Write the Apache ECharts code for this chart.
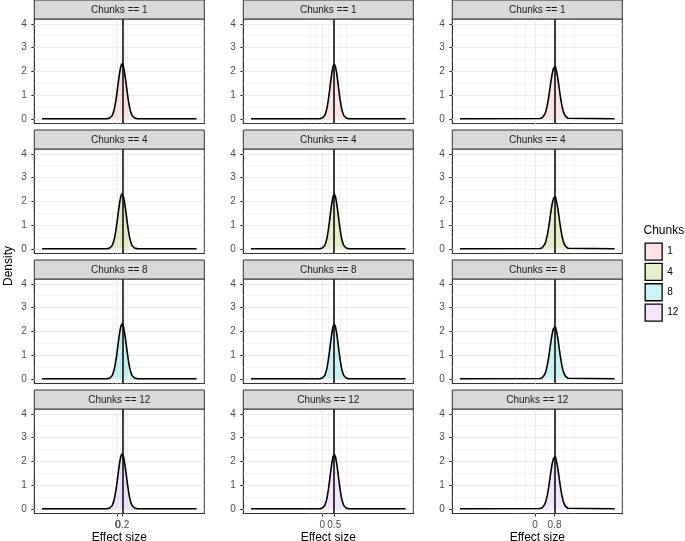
<!DOCTYPE html>
<html>
<head>
<meta charset="utf-8">
<script src="https://cdn.jsdelivr.net/npm/echarts@6/dist/echarts.min.js"></script>
<style>
html,body{margin:0;padding:0;background:#fff;}
#chart{width:685px;height:541px;}
</style>
</head>
<body>
<div id="chart"></div>
<script>
// ---- data ----
const chunks = ['1', '4', '8', '12'];
const effectSizes = [0.2, 0.5, 0.8];
const yTicks = [0, 1, 2, 3, 4];

const densityX_es02 = [-3.05, -0.41, -0.36, -0.31, -0.26, -0.21, -0.16, -0.11, -0.06, -0.01, 0.04, 0.09, 0.14, 0.19, 0.24, 0.29, 0.34, 0.39, 0.44, 0.49, 0.54, 0.59, 0.64, 0.69, 0.74, 0.79, 3.2];
const densityY_es02 = [0, 0.005, 0.012, 0.03, 0.07, 0.14, 0.28, 0.49, 0.79, 1.16, 1.57, 1.95, 2.22, 2.32, 2.2, 1.93, 1.56, 1.15, 0.78, 0.48, 0.27, 0.14, 0.07, 0.03, 0.012, 0.005, 0];

const densityX_es05 = [-3.0, -0.1, -0.05, 0, 0.05, 0.1, 0.15, 0.2, 0.25, 0.3, 0.35, 0.4, 0.45, 0.5, 0.55, 0.6, 0.65, 0.7, 0.75, 0.8, 0.85, 0.9, 0.95, 1.0, 1.05, 1.1, 3.5];
const densityY_es05 = [0, 0.005, 0.012, 0.03, 0.07, 0.14, 0.27, 0.48, 0.78, 1.15, 1.56, 1.93, 2.2, 2.3, 2.2, 1.93, 1.56, 1.15, 0.78, 0.48, 0.27, 0.14, 0.07, 0.03, 0.012, 0.005, 0];

const densityX_es08 = [-3.06, 0.2, 0.25, 0.3, 0.35, 0.4, 0.45, 0.5, 0.55, 0.6, 0.65, 0.7, 0.75, 0.78, 0.8, 0.83, 0.85, 0.9, 0.95, 1.0, 1.05, 1.1, 1.15, 1.2, 1.25, 1.3, 1.35, 1.4, 3.25];
const densityY_es08 = [0, 0.009, 0.021, 0.046, 0.097, 0.19, 0.33, 0.55, 0.84, 1.19, 1.56, 1.88, 2.1, 2.14, 2.12, 2.2, 2.17, 1.9, 1.57, 1.2, 0.85, 0.55, 0.33, 0.19, 0.097, 0.046, 0.021, 0.009, 0];

const densityX = [densityX_es02, densityX_es05, densityX_es08];
const densityY = [densityY_es02, densityY_es05, densityY_es08];

// ---- styling / layout ----
const fills = ['rgba(248,118,109,0.2)', 'rgba(124,174,0,0.2)', 'rgba(0,191,196,0.2)', 'rgba(199,124,255,0.2)'];
const FONT = 'Liberation Sans, Arial, Helvetica, sans-serif';
const P = { left0: 34.3, colStep: 209, top0: 19, rowStep: 130, w: 170, h: 104.5, strip: 19 };

const grids = [], xAxes = [], yAxes = [], series = [], graphics = [];

function xAxisBase(i, min, max) {
  return {
    gridIndex: i, type: 'value', min: min, max: max, position: 'bottom', offset: 0,
    axisLine: { show: true, onZero: false, lineStyle: { color: '#333333', width: 1 } },
    splitLine: { show: false }
  };
}

for (let r = 0; r < chunks.length; r++) {
  for (let c = 0; c < effectSizes.length; c++) {
    const i = r * effectSizes.length + c;
    const es = effectSizes[c];
    const xs = densityX[c], ys = densityY[c];
    const xmin = xs[0], xmax = xs[xs.length - 1], span = xmax - xmin;
    const lo = xmin - 0.05 * span, hi = xmax + 0.05 * span;
    const left = P.left0 + c * P.colStep, top = P.top0 + r * P.rowStep;
    grids.push({ left: left, top: top, width: P.w, height: P.h, show: true,
      borderColor: '#333333', borderWidth: 1, backgroundColor: '#ffffff',
      containLabel: false, outerBoundsMode: 'none' });
    const bottom = r === chunks.length - 1;
    const xIdx = xAxes.length;
    xAxes.push(Object.assign(xAxisBase(i, lo, hi), {
      axisTick: { show: bottom, customValues: [es], length: 3, lineStyle: { color: '#333333', width: 1 } },
      axisLabel: { show: bottom, customValues: [es], color: '#4d4d4d', fontSize: 10, margin: 6.5,
        fontFamily: FONT, formatter: v => String(v) },
      name: bottom ? 'Effect size' : '', nameLocation: 'middle', nameGap: 18,
      nameTextStyle: { fontSize: 12, color: '#000', fontFamily: FONT }
    }));
    if (bottom) {
      // second label set for the 0 break (can overlap the effect-size label, as in the original)
      xAxes.push(Object.assign(xAxisBase(i, lo, hi), {
        axisTick: { show: true, customValues: [0], length: 3, lineStyle: { color: '#333333', width: 1 } },
        axisLabel: { show: true, customValues: [0], color: '#4d4d4d', fontSize: 10, margin: 6.5,
          fontFamily: FONT, formatter: v => String(v) }
      }));
    }
    yAxes.push({
      gridIndex: i, type: 'value', min: -0.2, max: 4.2,
      axisLine: { show: true, onZero: false, lineStyle: { color: '#333333', width: 1 } },
      splitLine: { show: false },
      axisTick: { show: true, customValues: yTicks, length: 3, lineStyle: { color: '#333333', width: 1 } },
      axisLabel: { customValues: yTicks, color: '#4d4d4d', fontSize: 10, margin: 7.5, fontFamily: FONT }
    });
    // grid lines (ggplot theme_bw style)
    const gl = [];
    [-1, -0.5, 0, 0.5, 1, 1.5, 2].forEach(k => gl.push({ xAxis: k * es, lineStyle: { color: '#ebebeb', width: 0.6, type: 'solid' } }));
    [0.5, 1.5, 2.5, 3.5].forEach(v => gl.push({ yAxis: v, lineStyle: { color: '#ebebeb', width: 0.6, type: 'solid' } }));
    [0, es].forEach(v => gl.push({ xAxis: v, lineStyle: { color: '#ebebeb', width: 1.1, type: 'solid' } }));
    yTicks.forEach(v => gl.push({ yAxis: v, lineStyle: { color: '#ebebeb', width: 1.1, type: 'solid' } }));
    series.push({
      type: 'line', xAxisIndex: xIdx, yAxisIndex: i, data: [], silent: true, z: 1,
      markLine: { z: 1, symbol: 'none', silent: true, animation: false, label: { show: false }, data: gl }
    });
    series.push({
      name: chunks[r], type: 'line', xAxisIndex: xIdx, yAxisIndex: i, z: 3,
      data: xs.map((x, k) => [x, ys[k]]),
      showSymbol: false, symbol: 'none', smooth: false,
      lineStyle: { color: '#000000', width: 1.6 },
      itemStyle: { color: fills[r] },
      areaStyle: { color: fills[r], opacity: 1 },
      markLine: { z: 4, symbol: 'none', silent: true, animation: false, label: { show: false },
        lineStyle: { color: '#000000', width: 1.5, type: 'solid' }, data: [{ xAxis: es }] }
    });
    // strip
    graphics.push({ type: 'rect', shape: { x: left, y: top - P.strip, width: P.w, height: P.strip },
      style: { fill: '#d9d9d9', stroke: '#333333', lineWidth: 1 }, z: 10 });
    graphics.push({ type: 'text', x: left + P.w / 2, y: top - P.strip / 2 + 0.5,
      style: { text: 'Chunks == ' + chunks[r], fill: '#1a1a1a', font: '10px ' + FONT, align: 'center', verticalAlign: 'middle' }, z: 11 });
  }
}

graphics.push({ type: 'text', x: 9, y: 266, rotation: Math.PI / 2,
  style: { text: 'Density', fill: '#000', font: '12px ' + FONT, align: 'center', verticalAlign: 'middle' } });
graphics.push({ type: 'text', x: 643.5, y: 231,
  style: { text: 'Chunks', fill: '#000', font: '12px ' + FONT, align: 'left', verticalAlign: 'middle' } });

const chart = echarts.init(document.getElementById('chart'), null, { renderer: 'canvas' });
chart.setOption({
  animation: false,
  backgroundColor: '#ffffff',
  textStyle: { fontFamily: FONT },
  grid: grids, xAxis: xAxes, yAxis: yAxes, series: series, graphic: graphics,
  legend: {
    orient: 'vertical', left: 644.5, top: 242.5, padding: 0, itemWidth: 17, itemHeight: 17, itemGap: 2,
    selectedMode: false, textStyle: { fontSize: 10, color: '#000', fontFamily: FONT },
    data: chunks.map((c, k) => ({ name: c, icon: 'rect',
      itemStyle: { color: fills[k], borderColor: '#000', borderWidth: 1.3 } }))
  }
});
</script>
</body>
</html>
